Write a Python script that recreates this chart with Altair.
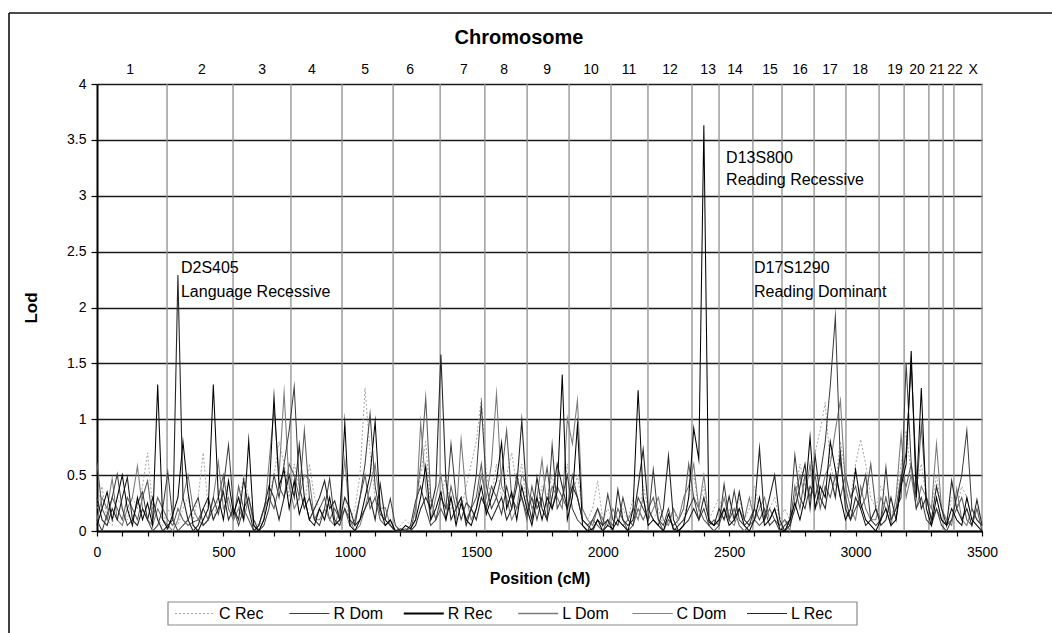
import altair as alt
import pandas as pd

FONT = "Liberation Sans"

# Common marker grid (cM) shared by all six traits
POSITIONS = list(range(0, 3501, 20))

SERIES = ["C Rec", "R Dom", "R Rec", "L Dom", "C Dom", "L Rec"]

# LOD scores along the genome, one row of 22 values per 440 cM
C_REC = [
    0.2, 0.4, 0.1, 0.05, 0.3, 0.2, 0.1, 0.3, 0.2, 0.4, 0.7, 0.2, 0.1, 0.05, 0.2, 0.1, 0.05, 0.2, 0.3, 0.1, 0.3, 0.7,
    0.2, 0.1, 0.3, 0.5, 0.3, 0.1, 0.2, 0.5, 0.3, 0.1, 0.05, 0.1, 0.3, 0.5, 0.8, 0.6, 0.3, 0.6, 0.4, 0.2, 0.6, 0.3,
    0.2, 0.1, 0.3, 0.1, 0.05, 0.3, 0.1, 0.2, 0.5, 1.28, 0.7, 0.3, 0.2, 0.1, 0.05, 0.0, 0.05, 0.1, 0.05, 0.2, 0.5, 0.8,
    0.2, 0.1, 0.3, 0.5, 0.2, 0.3, 0.2, 0.4, 0.6, 0.8, 1.19, 0.5, 0.3, 0.6, 0.3, 0.5, 0.7, 0.4, 0.6, 0.2, 0.3, 0.2,
    0.4, 0.3, 0.5, 0.3, 0.2, 0.6, 0.3, 0.5, 0.2, 0.1, 0.2, 0.45, 0.1, 0.2, 0.1, 0.05, 0.2, 0.1, 0.3, 0.1, 0.4, 0.2,
    0.1, 0.2, 0.05, 0.1, 0.2, 0.05, 0.1, 0.3, 0.5, 0.2, 0.4, 0.1, 0.2, 0.3, 0.1, 0.2, 0.1, 0.3, 0.1, 0.2, 0.4, 0.2,
    0.1, 0.2, 0.3, 0.1, 0.2, 0.1, 0.3, 0.6, 0.4, 0.5, 0.7, 0.9, 1.15, 0.6, 0.4, 0.8, 0.5, 0.3, 0.6, 0.82, 0.6, 0.3,
    0.2, 0.4, 0.3, 0.1, 0.3, 0.6, 0.9, 0.5, 0.4, 0.6, 0.3, 0.2, 0.5, 0.2, 0.1, 0.3, 0.2, 0.4, 0.3, 0.1, 0.2, 0.1,
]
R_DOM = [
    0.1, 0.0, 0.15, 0.3, 0.51, 0.2, 0.05, 0.1, 0.25, 0.35, 0.1, 0.0, 0.05, 0.2, 0.53, 0.1, 0.0, 0.05, 0.1, 0.2, 0.3, 0.05,
    0.1, 0.3, 0.15, 0.4, 0.77, 0.2, 0.05, 0.2, 0.3, 0.1, 0.0, 0.05, 0.2, 0.5, 0.3, 0.6, 0.9, 1.29, 0.4, 0.2, 0.3, 0.1,
    0.05, 0.2, 0.47, 0.1, 0.05, 0.2, 0.1, 0.05, 0.3, 0.6, 1.05, 0.4, 0.15, 0.1, 0.29, 0.05, 0.0, 0.0, 0.05, 0.27, 0.4, 0.2,
    0.05, 0.1, 0.3, 0.2, 0.78, 0.3, 0.1, 0.25, 0.2, 0.5, 1.13, 0.4, 0.2, 0.3, 0.15, 0.4, 0.2, 0.5, 0.3, 0.15, 0.3, 0.1,
    0.3, 0.1, 0.77, 0.2, 0.3, 0.5, 0.2, 0.1, 0.05, 0.0, 0.1, 0.2, 0.05, 0.33, 0.1, 0.05, 0.3, 0.1, 0.05, 0.3, 0.2, 0.1,
    0.55, 0.1, 0.05, 0.2, 0.0, 0.05, 0.1, 0.2, 0.3, 0.1, 0.2, 0.05, 0.0, 0.05, 0.42, 0.1, 0.36, 0.1, 0.05, 0.1, 0.2, 0.1,
    0.2, 0.05, 0.1, 0.0, 0.05, 0.1, 0.68, 0.3, 0.2, 0.4, 0.3, 0.5, 0.8, 1.3, 1.92, 0.6, 0.3, 0.1, 0.2, 0.3, 0.5, 0.1,
    0.05, 0.1, 0.57, 0.1, 0.2, 0.3, 1.5, 0.6, 0.2, 0.3, 0.1, 0.05, 0.2, 0.05, 0.0, 0.1, 0.3, 0.5, 0.9, 0.2, 0.1, 0.05,
]
R_REC = [
    0.05, 0.2, 0.35, 0.1, 0.3, 0.5, 0.2, 0.05, 0.3, 0.1, 0.25, 0.05, 1.31, 0.1, 0.02, 0.15, 0.3, 0.8, 0.35, 0.05, 0.0, 0.1,
    0.2, 1.31, 0.3, 0.1, 0.45, 0.15, 0.3, 0.1, 0.81, 0.05, 0.0, 0.1, 0.3, 1.2, 0.4, 0.55, 0.2, 0.45, 0.15, 0.3, 0.1, 0.05,
    0.2, 0.1, 0.3, 0.05, 0.1, 0.97, 0.05, 0.0, 0.1, 0.3, 0.5, 0.98, 0.2, 0.05, 0.1, 0.0, 0.0, 0.05, 0.02, 0.1, 0.3, 0.58,
    0.1, 0.2, 0.35, 0.1, 0.3, 0.05, 0.25, 0.1, 0.05, 0.2, 0.4, 0.15, 0.3, 0.45, 0.79, 0.2, 0.35, 0.1, 0.4, 0.2, 0.05, 0.3,
    0.1, 0.3, 0.2, 0.35, 1.4, 0.1, 0.3, 0.95, 0.05, 0.0, 0.02, 0.1, 0.0, 0.05, 0.02, 0.1, 0.05, 0.0, 0.2, 1.26, 0.3, 0.05,
    0.1, 0.05, 0.0, 0.15, 0.02, 0.0, 0.05, 0.3, 0.92, 0.64, 3.63, 0.08, 0.05, 0.1, 0.2, 0.05, 0.1, 0.2, 0.05, 0.0, 0.1, 0.3,
    0.05, 0.1, 0.2, 0.02, 0.0, 0.1, 0.25, 0.1, 0.3, 0.84, 0.2, 0.4, 0.3, 0.8, 0.55, 0.3, 0.1, 0.2, 0.55, 0.25, 0.1, 0.05,
    0.0, 0.1, 0.2, 0.05, 0.1, 0.4, 0.6, 1.61, 0.3, 1.28, 0.2, 0.05, 0.3, 0.1, 0.05, 0.2, 0.1, 0.05, 0.3, 0.1, 0.05, 0.0,
]
L_DOM = [
    0.1, 0.3, 0.2, 0.47, 0.1, 0.05, 0.2, 0.3, 0.58, 0.2, 0.1, 0.05, 0.2, 0.1, 0.05, 0.0, 0.1, 0.3, 0.5, 0.2, 0.1, 0.05,
    0.1, 0.3, 0.62, 0.2, 0.3, 0.1, 0.2, 0.1, 0.3, 0.05, 0.0, 0.1, 0.6, 1.09, 0.5, 1.24, 0.4, 0.2, 0.3, 0.5, 0.46, 0.1,
    0.1, 0.2, 0.1, 0.05, 0.2, 0.64, 0.1, 0.0, 0.05, 0.2, 0.4, 0.6, 0.2, 0.21, 0.05, 0.0, 0.0, 0.0, 0.03, 0.1, 0.97, 0.4,
    0.1, 0.3, 0.5, 0.2, 0.3, 0.1, 0.82, 0.3, 0.1, 0.2, 0.5, 0.3, 0.6, 1.23, 0.4, 0.3, 0.1, 0.2, 0.5, 0.42, 0.2, 0.3,
    0.64, 0.2, 0.4, 0.3, 0.2, 1.01, 0.78, 1.17, 0.2, 0.1, 0.05, 0.2, 0.1, 0.05, 0.2, 0.1, 0.05, 0.1, 0.2, 0.1, 0.3, 0.1,
    0.2, 0.3, 0.1, 0.05, 0.2, 0.1, 0.3, 0.4, 0.6, 0.2, 0.5, 0.1, 0.05, 0.1, 0.3, 0.1, 0.05, 0.2, 0.1, 0.3, 0.1, 0.2,
    0.3, 0.1, 0.2, 0.05, 0.1, 0.0, 0.3, 0.5, 0.3, 0.6, 0.2, 0.3, 0.5, 0.6, 0.9, 1.17, 0.4, 0.2, 0.1, 0.4, 0.2, 0.1,
    0.1, 0.3, 0.2, 0.05, 0.3, 0.86, 0.3, 0.5, 0.2, 0.4, 0.3, 0.2, 0.78, 0.2, 0.1, 0.05, 0.38, 0.1, 0.05, 0.2, 0.1, 0.05,
]
C_DOM = [
    0.61, 0.2, 0.1, 0.3, 0.2, 0.1, 0.3, 0.2, 0.1, 0.3, 0.45, 0.1, 0.3, 0.2, 0.1, 0.05, 0.2, 0.1, 0.05, 0.08, 0.1, 0.2,
    0.1, 0.2, 0.3, 0.5, 0.2, 0.1, 0.4, 0.2, 0.1, 0.0, 0.05, 0.2, 0.3, 0.2, 0.4, 0.3, 0.6, 0.5, 0.3, 0.9, 0.3, 0.1,
    0.2, 0.3, 0.1, 0.2, 0.1, 0.2, 0.05, 0.1, 0.3, 0.5, 0.2, 0.3, 0.1, 0.05, 0.1, 0.0, 0.0, 0.02, 0.0, 0.2, 0.6, 1.19,
    0.3, 0.1, 0.2, 0.1, 0.4, 0.2, 0.3, 0.1, 0.2, 0.3, 0.6, 0.2, 0.4, 0.3, 0.5, 0.9, 0.3, 0.2, 0.3, 0.1, 0.4, 0.2,
    0.3, 0.57, 0.2, 0.4, 0.3, 0.2, 0.5, 0.3, 0.1, 0.05, 0.1, 0.05, 0.0, 0.1, 0.05, 0.2, 0.1, 0.0, 0.05, 0.2, 0.1, 0.2,
    0.3, 0.1, 0.0, 0.1, 0.05, 0.1, 0.2, 0.6, 0.3, 0.2, 0.1, 0.05, 0.1, 0.05, 0.2, 0.1, 0.2, 0.05, 0.0, 0.05, 0.1, 0.05,
    0.1, 0.2, 0.1, 0.05, 0.1, 0.05, 0.4, 0.2, 0.5, 0.3, 0.5, 0.2, 0.4, 0.3, 0.5, 0.3, 0.5, 0.3, 0.4, 0.2, 0.3, 0.6,
    0.2, 0.1, 0.3, 0.1, 0.2, 0.5, 0.4, 0.6, 0.3, 0.95, 0.3, 0.1, 0.2, 0.1, 0.05, 0.1, 0.2, 0.3, 0.1, 0.05, 0.2, 0.0,
]
L_REC = [
    0.3, 0.1, 0.05, 0.2, 0.1, 0.3, 0.48, 0.1, 0.05, 0.2, 0.1, 0.3, 0.1, 0.0, 0.05, 0.1, 2.29, 0.3, 0.1, 0.0, 0.05, 0.2,
    0.3, 0.1, 0.2, 0.35, 0.1, 0.2, 0.1, 0.46, 0.2, 0.0, 0.05, 0.2, 0.4, 0.3, 0.1, 0.3, 0.5, 0.3, 0.77, 0.3, 0.1, 0.2,
    0.3, 0.45, 0.2, 0.27, 0.1, 0.3, 0.2, 0.05, 0.1, 0.2, 0.3, 0.1, 0.42, 0.1, 0.05, 0.0, 0.02, 0.0, 0.0, 0.05, 0.2, 0.3,
    0.2, 0.4, 1.58, 0.45, 0.1, 0.2, 0.3, 0.05, 0.2, 0.1, 0.3, 0.2, 0.1, 0.2, 0.3, 0.1, 0.2, 0.4, 0.99, 0.3, 0.1, 0.48,
    0.2, 0.1, 0.3, 0.6, 0.4, 0.2, 0.4, 0.3, 0.1, 0.05, 0.0, 0.1, 0.05, 0.1, 0.0, 0.37, 0.1, 0.05, 0.1, 0.4, 0.73, 0.2,
    0.1, 0.05, 0.2, 0.67, 0.1, 0.0, 0.05, 0.1, 0.2, 0.1, 0.3, 0.1, 0.05, 0.2, 0.1, 0.31, 0.1, 0.35, 0.1, 0.05, 0.2, 0.74,
    0.1, 0.3, 0.5, 0.1, 0.0, 0.05, 0.2, 0.4, 0.6, 0.2, 0.68, 0.3, 0.2, 0.5, 0.3, 0.7, 0.2, 0.1, 0.3, 0.2, 0.05, 0.1,
    0.2, 0.05, 0.1, 0.3, 0.1, 0.46, 0.7, 1.5, 0.5, 0.2, 0.3, 0.1, 0.4, 0.2, 0.05, 0.45, 0.2, 0.1, 0.2, 0.05, 0.28, 0.05,
]

# Chromosome boundaries (cM) and label positions
BOUNDARIES = [277, 538, 767, 969, 1171, 1357, 1534, 1701, 1867, 2033, 2179, 2353,
              2460, 2594, 2709, 2836, 2962, 3093, 3192, 3290, 3346, 3389, 3500]
CHROMOSOMES = ["1", "2", "3", "4", "5", "6", "7", "8", "9", "10", "11", "12",
               "13", "14", "15", "16", "17", "18", "19", "20", "21", "22", "X"]
CHROM_LABEL_POS = [131, 415, 653, 850, 1060, 1238, 1451, 1610, 1780, 1954, 2104, 2266,
                   2417, 2523, 2662, 2780, 2899, 3018, 3156, 3243, 3322, 3393, 3465]

# Peak annotations: position (cM), LOD height of the text line, text
NOTE_POS = [332, 332, 2488, 2488, 2598, 2598]
NOTE_LOD = [2.35, 2.14, 3.34, 3.14, 2.35, 2.14]
NOTE_TEXT = ["D2S405", "Language Recessive", "D13S800", "Reading Recessive",
             "D17S1290", "Reading Dominant"]

COLORS = ["#a6a6a6", "#3c3c3c", "#000000", "#7a7a7a", "#5c5c5c", "#262626"]
DASHES = [[2, 2], [1, 0], [1, 0], [1, 0], [1, 0], [1, 0]]
WIDTHS = [1.0, 1.1, 2.0, 1.3, 1.0, 1.1]

all_values = [C_REC, R_DOM, R_REC, L_DOM, C_DOM, L_REC]
for vals in all_values:
    assert len(vals) == len(POSITIONS)

rows = []
for name, vals in zip(SERIES, all_values):
    for p, v in zip(POSITIONS, vals):
        rows.append({"pos": p, "lod": v, "series": name})
scan = pd.DataFrame(rows)

bounds = pd.DataFrame({"pos": BOUNDARIES})
chrom_labels = pd.DataFrame({"pos": CHROM_LABEL_POS, "chrom": CHROMOSOMES})
notes = pd.DataFrame({"pos": NOTE_POS, "lod": NOTE_LOD, "text": NOTE_TEXT})

W, H = 885, 447

x_enc = alt.X(
    "pos:Q",
    scale=alt.Scale(domain=[0, 3500], nice=False, zero=False),
    axis=alt.Axis(
        values=list(range(0, 3501, 100)),
        labelExpr="datum.value % 500 === 0 ? datum.label : ''",
        format="d",
        grid=False,
        labelFlush=False,
        labelOverlap=False,
        tickSize=5,
        labelPadding=9,
        title="Position (cM)",
        titleFontSize=16,
        titleFontWeight="bold",
        titleY=47,
        titleBaseline="middle",
    ),
)
y_enc = alt.Y(
    "lod:Q",
    scale=alt.Scale(domain=[0, 4], nice=False),
    axis=alt.Axis(
        values=[0, 0.5, 1, 1.5, 2, 2.5, 3, 3.5, 4],
        format="~g",
        grid=True,
        gridColor="#1a1a1a",
        gridWidth=1.3,
        tickSize=6,
        labelPadding=5,
        labelFontSize=14,
        title="Lod",
        titleFontSize=17,
        titleFontWeight="bold",
        titleX=-66,
        titleY=H / 2,
        titleAngle=-90,
        titleAlign="center",
        titleBaseline="middle",
    ),
)

color_enc = alt.Color("series:N", scale=alt.Scale(domain=SERIES, range=COLORS), legend=None)
dash_enc = alt.StrokeDash("series:N", scale=alt.Scale(domain=SERIES, range=DASHES), legend=None)
width_enc = alt.StrokeWidth("series:N", scale=alt.Scale(domain=SERIES, range=WIDTHS), legend=None)

chrom_lines = alt.Chart(bounds).mark_rule(color="#8f8f8f", strokeWidth=1.3).encode(x=x_enc)

# Draw the faint traits first and the thick R Rec trace on top
draw_order = ["C Rec", "C Dom", "L Dom", "R Dom", "L Rec", "R Rec"]
trace_layers = [
    alt.Chart(scan)
    .transform_filter(alt.datum.series == s)
    .mark_line(strokeJoin="miter", strokeMiterLimit=20)
    .encode(x=x_enc, y=y_enc, color=color_enc, strokeDash=dash_enc, strokeWidth=width_enc)
    for s in draw_order
]

chrom_text = alt.Chart(chrom_labels).mark_text(
    font=FONT, fontSize=14, color="#000000", baseline="middle", align="center"
).encode(x=x_enc, y=alt.value(-14), text="chrom:N")

note_text = alt.Chart(notes).mark_text(
    font=FONT, fontSize=16, color="#000000", baseline="middle", align="left"
).encode(x=x_enc, y=y_enc, text="text:N")

one = pd.DataFrame({"k": [0]})
chart_title = alt.Chart(one).mark_text(
    text="Chromosome", font=FONT, fontSize=20, fontWeight="bold", color="#000000",
    baseline="middle", align="center"
).encode(x=alt.value(422), y=alt.value(-46))

frame_left = alt.Chart(one).mark_rule(color="#111111", strokeWidth=1.6).encode(
    x=alt.value(-88), y=alt.value(-71), y2=alt.value(560)
)
frame_top = alt.Chart(one).mark_rule(color="#111111", strokeWidth=1.6).encode(
    x=alt.value(-88), x2=alt.value(960), y=alt.value(-71)
)

# Boxed key below the axis title: one line sample and label per trait
KEY_LEFT, KEY_RIGHT, KEY_TOP, KEY_BOTTOM = 71, 760, 518, 541
KEY_START, KEY_STEP, KEY_SAMPLE = 78, 114.4, 40
key_mid = (KEY_TOP + KEY_BOTTOM) / 2
key_box = alt.Chart(one).mark_rect(fill="#ffffff", stroke="#8a8a8a", strokeWidth=1.2).encode(
    x=alt.value(KEY_LEFT), x2=alt.value(KEY_RIGHT), y=alt.value(KEY_TOP), y2=alt.value(KEY_BOTTOM)
)
key_layers = [key_box]
for i, s in enumerate(SERIES):
    x0 = KEY_START + KEY_STEP * i
    key_layers.append(
        alt.Chart(one).mark_rule(color=COLORS[i], strokeDash=DASHES[i], strokeWidth=WIDTHS[i]).encode(
            x=alt.value(x0), x2=alt.value(x0 + KEY_SAMPLE), y=alt.value(key_mid)
        )
    )
    key_layers.append(
        alt.Chart(one).mark_text(
            text=s, font=FONT, fontSize=16, color="#000000", align="left", baseline="middle"
        ).encode(x=alt.value(x0 + KEY_SAMPLE + 4), y=alt.value(key_mid))
    )

chart = (
    alt.layer(chrom_lines, *trace_layers, chrom_text, note_text, chart_title,
              frame_left, frame_top, *key_layers)
    .properties(
        width=W,
        height=H,
        autosize=alt.AutoSizeParams(type="none"),
        padding={"left": 97, "top": 84, "right": 70, "bottom": 102},
        background="#ffffff",
    )
    .configure_view(stroke=None)
    .configure_axis(
        labelFont=FONT,
        titleFont=FONT,
        labelColor="#000000",
        titleColor="#000000",
        labelFontSize=14,
        domainColor="#000000",
        domainWidth=2,
        tickColor="#000000",
        tickWidth=1.2,
    )
)

chart.save("out.html", embed_options={"renderer": "svg", "actions": False})
